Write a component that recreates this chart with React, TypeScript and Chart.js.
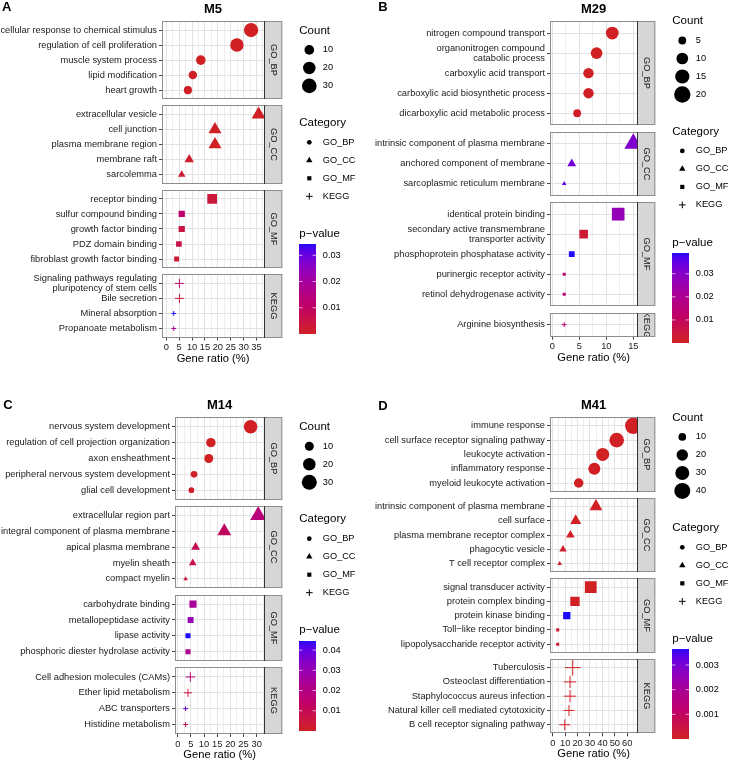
import React, { useEffect, useRef } from "react";
import { Chart, registerables } from "chart.js";
Chart.register(...registerables);

const FONT = "'Liberation Sans', Arial, Helvetica, sans-serif";
const FACETS = ["GO_BP", "GO_CC", "GO_MF", "KEGG"];
const SHAPE: Record<string, string> = { GO_BP: "circle", GO_CC: "triangle", GO_MF: "rect", KEGG: "cross" };

// ---------------- Panel A : M5 ----------------
const A_terms = [
  "cellular response to chemical stimulus", "regulation of cell proliferation", "muscle system process", "lipid modification", "heart growth",
  "extracellular vesicle", "cell junction", "plasma membrane region", "membrane raft", "sarcolemma",
  "receptor binding", "sulfur compound binding", "growth factor binding", "PDZ domain binding", "fibroblast growth factor binding",
  "Signaling pathways regulating\npluripotency of stem cells", "Bile secretion", "Mineral absorption", "Propanoate metabolism",
];
const A_category = ["GO_BP", "GO_BP", "GO_BP", "GO_BP", "GO_BP", "GO_CC", "GO_CC", "GO_CC", "GO_CC", "GO_CC", "GO_MF", "GO_MF", "GO_MF", "GO_MF", "GO_MF", "KEGG", "KEGG", "KEGG", "KEGG"];
const A_ratio = [32.9, 27.4, 13.4, 10.3, 8.4, 35.8, 18.9, 18.9, 8.9, 6.0, 17.8, 6.0, 6.0, 4.9, 4.0, 5.1, 5.1, 2.9, 2.9];
const A_count = [28, 24, 10, 7, 6, 12, 10, 10, 4, 2, 14, 4, 4, 3, 2, 3, 3, 1, 1];
const A_pvalue = [1e-9, 2e-8, 1e-5, 3e-4, 6e-4, 1e-6, 1e-4, 2e-4, 1.5e-3, 2.5e-3, 3.5e-3, 0.012, 4.5e-3, 5.5e-3, 3e-3, 0.013, 3.5e-3, 0.0343, 0.0185];
const A_countLimits = [1, 39];
const A_countBreaks = [10, 20, 30];
const A_pBreaks = [0.01, 0.02, 0.03];
const A_xRange = [-1.65, 37.9];
const A_xMajor = [0, 5, 10, 15, 20, 25, 30, 35];

// ---------------- Panel B : M29 ----------------
const B_terms = [
  "nitrogen compound transport", "organonitrogen compound\ncatabolic process", "carboxylic acid transport", "carboxylic acid biosynthetic process", "dicarboxylic acid metabolic process",
  "intrinsic component of plasma membrane", "anchored component of membrane", "sarcoplasmic reticulum membrane",
  "identical protein binding", "secondary active transmembrane\ntransporter activity", "phosphoprotein phosphatase activity", "purinergic receptor activity", "retinol dehydrogenase activity",
  "Arginine biosynthesis",
];
const B_category = ["GO_BP", "GO_BP", "GO_BP", "GO_BP", "GO_BP", "GO_CC", "GO_CC", "GO_CC", "GO_MF", "GO_MF", "GO_MF", "GO_MF", "GO_MF", "KEGG"];
const B_ratio = [11.1, 8.2, 6.7, 6.7, 4.6, 15.0, 3.6, 2.2, 12.2, 5.8, 3.6, 2.2, 2.2, 2.2];
const B_count = [12, 10, 8, 8, 5, 13, 4, 3, 15, 7, 4, 3, 3, 3];
const B_pvalue = [1e-6, 2e-5, 1e-4, 2e-4, 1e-3, 0.031, 0.033, 0.035, 0.027, 0.003, 0.039, 0.014, 0.014, 0.015];
const B_countLimits = [3, 20];
const B_countBreaks = [5, 10, 15, 20];
const B_pBreaks = [0.01, 0.02, 0.03];
const B_xRange = [-0.43, 15.74];
const B_xMajor = [0, 5, 10, 15];

// ---------------- Panel C : M14 ----------------
const C_terms = [
  "nervous system development", "regulation of cell projection organization", "axon ensheathment", "peripheral nervous system development", "glial cell development",
  "extracellular region part", "integral component of plasma membrane", "apical plasma membrane", "myelin sheath", "compact myelin",
  "carbohydrate binding", "metallopeptidase activity", "lipase activity", "phosphoric diester hydrolase activity",
  "Cell adhesion molecules (CAMs)", "Ether lipid metabolism", "ABC transporters", "Histidine metabolism",
];
const C_category = ["GO_BP", "GO_BP", "GO_BP", "GO_BP", "GO_BP", "GO_CC", "GO_CC", "GO_CC", "GO_CC", "GO_CC", "GO_MF", "GO_MF", "GO_MF", "GO_MF", "KEGG", "KEGG", "KEGG", "KEGG"];
const C_ratio = [27.7, 12.6, 11.8, 6.2, 5.2, 30.6, 17.7, 6.8, 5.7, 3.0, 5.8, 4.9, 3.9, 3.9, 4.8, 3.9, 3.0, 3.0];
const C_count = [24, 11, 10, 6, 5, 18, 13, 6, 5, 4, 8, 6, 5, 5, 6, 5, 4, 4];
const C_pvalue = [1e-10, 1e-5, 5e-5, 4e-4, 8e-4, 0.018, 0.012, 0.01, 0.008, 0.005, 0.024, 0.03, 0.0445, 0.023, 0.019, 0.006, 0.038, 0.01];
const C_countLimits = [4, 36];
const C_countBreaks = [10, 20, 30];
const C_pBreaks = [0.01, 0.02, 0.03, 0.04];
const C_xRange = [-1.03, 32.9];
const C_xMajor = [0, 5, 10, 15, 20, 25, 30];

// ---------------- Panel D : M41 ----------------
const D_terms = [
  "immune response", "cell surface receptor signaling pathway", "leukocyte activation", "inflammatory response", "myeloid leukocyte activation",
  "intrinsic component of plasma membrane", "cell surface", "plasma membrane receptor complex", "phagocytic vesicle", "T cell receptor complex",
  "signal transducer activity", "protein complex binding", "protein kinase binding", "Toll\u2212like receptor binding", "lipopolysaccharide receptor activity",
  "Tuberculosis", "Osteoclast differentiation", "Staphylococcus aureus infection", "Natural killer cell mediated cytotoxicity", "B cell receptor signaling pathway",
];
const D_category = ["GO_BP", "GO_BP", "GO_BP", "GO_BP", "GO_BP", "GO_CC", "GO_CC", "GO_CC", "GO_CC", "GO_CC", "GO_MF", "GO_MF", "GO_MF", "GO_MF", "GO_MF", "KEGG", "KEGG", "KEGG", "KEGG", "KEGG"];
const D_ratio = [64.8, 51.5, 40.2, 33.5, 20.9, 34.8, 18.5, 14.2, 8.3, 5.6, 30.6, 17.9, 11.3, 4.0, 4.0, 16.1, 13.9, 13.9, 13.1, 9.7];
const D_count = [42, 33, 26, 22, 14, 14, 11, 8, 7, 6, 27, 17, 11, 6, 6, 19, 12, 12, 10, 10];
const D_pvalue = [1e-15, 1e-12, 1e-10, 1e-9, 1e-6, 1e-6, 1e-5, 5e-5, 1e-4, 2e-4, 1e-7, 1e-5, 0.00365, 2e-4, 2e-4, 1e-6, 1e-5, 1e-5, 2e-5, 5e-5];
const D_countLimits = [6, 42];
const D_countBreaks = [10, 20, 30, 40];
const D_pBreaks = [0.001, 0.002, 0.003];
const D_xRange = [-2.2, 68.1];
const D_xMajor = [0, 10, 20, 30, 40, 50, 60];

// ---------------- styling ----------------
const GAP = 6.3;
const EXPAND = 0.6;
const STRIP_W = 18.3;
const X_AXIS_H = 27.7;
const BAR_W = 17.3;
const BAR_H = 90;
const LOW = [208, 32, 36];
const HIGH = [30, 10, 250];
const TEXT = "#1A1A1A";

type Geo = { W: number; H: number; left: number; right: number; top: number; bottom: number; letterX: number; letterY: number };

// ---- Lab colour interpolation (like ggplot's gradient) ----
function toLin(c: number) { c /= 255; return c <= 0.04045 ? c / 12.92 : Math.pow((c + 0.055) / 1.055, 2.4); }
function fromLin(c: number) { const v = c <= 0.0031308 ? 12.92 * c : 1.055 * Math.pow(c, 1 / 2.4) - 0.055; return Math.round(Math.max(0, Math.min(1, v)) * 255); }
function rgb2lab(rgb: number[]) {
  const [r, g, b] = rgb.map(toLin);
  const X = (0.4124 * r + 0.3576 * g + 0.1805 * b) / 0.95047;
  const Y = 0.2126 * r + 0.7152 * g + 0.0722 * b;
  const Z = (0.0193 * r + 0.1192 * g + 0.9505 * b) / 1.08883;
  const f = (t: number) => (t > 0.008856 ? Math.cbrt(t) : 7.787 * t + 16 / 116);
  const fx = f(X), fy = f(Y), fz = f(Z);
  return [116 * fy - 16, 500 * (fx - fy), 200 * (fy - fz)];
}
function lab2rgb(lab: number[]) {
  const fy = (lab[0] + 16) / 116, fx = fy + lab[1] / 500, fz = fy - lab[2] / 200;
  const fi = (t: number) => (t * t * t > 0.008856 ? t * t * t : (t - 16 / 116) / 7.787);
  const X = fi(fx) * 0.95047, Y = fi(fy), Z = fi(fz) * 1.08883;
  const r = 3.2406 * X - 1.5372 * Y - 0.4986 * Z;
  const g = -0.9689 * X + 1.8758 * Y + 0.0415 * Z;
  const b = 0.0557 * X - 0.204 * Y + 1.057 * Z;
  return `rgb(${fromLin(r)},${fromLin(g)},${fromLin(b)})`;
}
const LOW_LAB = rgb2lab(LOW), HIGH_LAB = rgb2lab(HIGH);
function gradColor(t: number) {
  t = Math.max(0, Math.min(1, t));
  return lab2rgb([0, 1, 2].map((k) => LOW_LAB[k] + (HIGH_LAB[k] - LOW_LAB[k]) * t));
}

function shapeRadius(shape: string, d: number) {
  if (shape === "triangle") return 0.778 * d;
  if (shape === "rect") return 0.627 * d;
  if (shape === "cross") return 0.707 * d;
  return d / 2;
}

function drawShape(ctx: CanvasRenderingContext2D, shape: string, x: number, y: number, r: number, color: string) {
  ctx.fillStyle = color;
  ctx.strokeStyle = color;
  ctx.beginPath();
  if (shape === "circle") {
    ctx.arc(x, y, r, 0, Math.PI * 2);
    ctx.fill();
  } else if (shape === "triangle") {
    ctx.moveTo(x, y - r);
    ctx.lineTo(x + 0.866 * r, y + 0.5 * r);
    ctx.lineTo(x - 0.866 * r, y + 0.5 * r);
    ctx.closePath();
    ctx.fill();
  } else if (shape === "rect") {
    const s = r * Math.SQRT1_2;
    ctx.rect(x - s, y - s, 2 * s, 2 * s);
    ctx.fill();
  } else {
    ctx.lineWidth = 1;
    ctx.moveTo(x - r, y);
    ctx.lineTo(x + r, y);
    ctx.moveTo(x, y - r);
    ctx.lineTo(x, y + r);
    ctx.stroke();
  }
}

interface PanelCfg {
  letter: string;
  title: string;
  terms: string[];
  category: string[];
  ratio: number[];
  count: number[];
  pvalue: number[];
  countLimits: number[];
  countBreaks: number[];
  pBreaks: number[];
  xRange: number[];
  xMajor: number[];
  geo: Geo;
}

function buildChart(canvas: HTMLCanvasElement, cfg: PanelCfg) {
  const g = cfg.geo;
  const present = FACETS.filter((f) => cfg.category.includes(f));
  const groups = present.map((f) => cfg.category.map((c, i) => (c === f ? i : -1)).filter((i) => i >= 0));
  const plotH = g.bottom - g.top;
  const units = groups.reduce((s, gr) => s + gr.length - 1 + 2 * EXPAND, 0);
  const pxU = (plotH - GAP * (groups.length - 1)) / units;
  const gapU = GAP / pxU;
  const yPos: number[] = new Array(cfg.terms.length).fill(0);
  const ranges: number[][] = [];
  let s = 0;
  groups.forEach((gr) => {
    gr.forEach((idx, j) => { yPos[idx] = s + EXPAND + j; });
    const e = s + gr.length - 1 + 2 * EXPAND;
    ranges.push([s, e]);
    s = e + gapU;
  });
  const yMax = s - gapU;
  const order = groups.flat();

  const [cMin, cMax] = cfg.countLimits;
  const diam = (c: number) => 3.4 + 12.9 * Math.sqrt(Math.max(0, (c - cMin) / (cMax - cMin)));
  const pMin = Math.min(...cfg.pvalue);
  const pMax = Math.max(...cfg.pvalue);
  const col = (p: number) => gradColor((p - pMin) / (pMax - pMin));

  const step = cfg.xMajor[1] - cfg.xMajor[0];
  const majorSet = new Set(cfg.xMajor);
  const minors = cfg.xMajor.map((v) => v + step / 2).filter((v) => v < cfg.xRange[1]);
  const xTicks = [...cfg.xMajor, ...minors].sort((a, b) => a - b);

  const datasets = groups.map((gr, k) => {
    const shape = SHAPE[present[k]];
    const colors = gr.map((i) => col(cfg.pvalue[i]));
    const radii = gr.map((i) => shapeRadius(shape, diam(cfg.count[i])));
    return {
      label: present[k],
      data: gr.map((i) => ({ x: cfg.ratio[i], y: yPos[i] })),
      pointStyle: shape,
      pointRadius: radii,
      pointHoverRadius: radii,
      backgroundColor: colors,
      borderColor: colors,
      pointBackgroundColor: colors,
      pointBorderColor: colors,
      borderWidth: shape === "cross" ? 1 : 0,
      pointBorderWidth: shape === "cross" ? 1 : 0,
      showLine: false,
    };
  });

  const facetRect = (chart: any, k: number) => {
    const y = chart.scales.y;
    const ca = chart.chartArea;
    const L = Math.round(ca.left), R = Math.round(ca.right);
    const T = Math.round(y.getPixelForValue(ranges[k][0]));
    const B = Math.round(y.getPixelForValue(ranges[k][1]));
    return { L, R, T, B };
  };

  const decor = {
    id: "decor" + cfg.letter,
    beforeDatasetsDraw(chart: any) {
      const ctx: CanvasRenderingContext2D = chart.ctx;
      const ca = chart.chartArea;
      ctx.save();
      for (let k = 0; k < ranges.length - 1; k++) {
        const a = facetRect(chart, k), b = facetRect(chart, k + 1);
        ctx.fillStyle = "#ffffff";
        ctx.fillRect(ca.left - 1, a.B, ca.right - ca.left + 2, b.T - a.B);
      }
      ranges.forEach((_, k) => {
        const { L, R, T, B } = facetRect(chart, k);
        ctx.fillStyle = "#D6D6D6";
        ctx.fillRect(R, T, STRIP_W, B - T);
        ctx.lineWidth = 1;
        ctx.strokeStyle = "#8E8E8E";
        ctx.strokeRect(L + 0.5, T + 0.5, R + STRIP_W - L - 1, B - T - 1);
        ctx.strokeStyle = "#333333";
        ctx.beginPath();
        ctx.moveTo(R + 0.5, T);
        ctx.lineTo(R + 0.5, B);
        ctx.stroke();
        ctx.save();
        ctx.beginPath();
        ctx.rect(R + 1, T + 1, STRIP_W - 2, B - T - 2);
        ctx.clip();
        ctx.translate(R + STRIP_W / 2 + 0.5, (T + B) / 2);
        ctx.rotate(Math.PI / 2);
        ctx.fillStyle = TEXT;
        ctx.font = `9.3px ${FONT}`;
        ctx.textAlign = "center";
        ctx.textBaseline = "middle";
        ctx.fillText(present[k], 0, 0);
        ctx.restore();
      });
      ctx.restore();
    },
    beforeDatasetDraw(chart: any, args: any) {
      const ctx: CanvasRenderingContext2D = chart.ctx;
      const { L, R, T, B } = facetRect(chart, args.index);
      ctx.save();
      ctx.beginPath();
      ctx.rect(L + 1, T + 1, R - L - 1, B - T - 2);
      ctx.clip();
    },
    afterDatasetDraw(chart: any) {
      chart.ctx.restore();
    },
    afterDraw(chart: any) {
      const ctx: CanvasRenderingContext2D = chart.ctx;
      const ca = chart.chartArea;
      ctx.save();
      ctx.globalAlpha = 1;
      ctx.fillStyle = "#000";
      ctx.textBaseline = "middle";
      ctx.font = `bold 13px ${FONT}`;
      ctx.textAlign = "left";
      ctx.fillText(cfg.letter, g.letterX, g.letterY);
      ctx.textAlign = "center";
      ctx.fillText(cfg.title, (ca.left + ca.right) / 2, ca.top - 12);

      const lx = Math.round(ca.right) + STRIP_W + 17;
      const nK = cfg.countBreaks.length;
      const blockH = 6 + 19.5 + 18 * (nK - 1) + 37 + 19.4 + 18 * 3 + 37.5 + 10.3 + BAR_H;
      let y = (ca.top + ca.bottom) / 2 - blockH / 2 + 6;
      const title = (t: string) => {
        ctx.fillStyle = "#000";
        ctx.font = `11.5px ${FONT}`;
        ctx.textAlign = "left";
        ctx.fillText(t, lx, y);
      };
      const label = (t: string, yy: number) => {
        ctx.fillStyle = "#000";
        ctx.font = `9.2px ${FONT}`;
        ctx.textAlign = "left";
        ctx.fillText(t, lx + 23.5, yy);
      };
      title("Count");
      y += 19.5;
      cfg.countBreaks.forEach((c, i) => {
        drawShape(ctx, "circle", lx + 10, y, diam(c) / 2, "#000");
        label(String(c), y);
        if (i < nK - 1) y += 18;
      });
      y += 37;
      title("Category");
      y += 19.4;
      FACETS.forEach((f, j) => {
        drawShape(ctx, SHAPE[f], lx + 10, y, shapeRadius(SHAPE[f], 4.7), "#000");
        label(f, y);
        if (j < 3) y += 18;
      });
      y += 37.5;
      title("p\u2212value");
      const bt = Math.round(y + 10.3);
      const bx = Math.round(lx);
      const bw = Math.round(BAR_W);
      for (let i = 0; i < BAR_H; i++) {
        const t = 1 - (i + 0.5) / BAR_H;
        ctx.fillStyle = gradColor(t);
        ctx.fillRect(bx, bt + i, bw, 1);
      }
      cfg.pBreaks.forEach((v) => {
        const ty = bt + BAR_H - ((v - pMin) / (pMax - pMin)) * BAR_H;
        ctx.strokeStyle = "rgba(255,255,255,0.85)";
        ctx.lineWidth = 0.8;
        ctx.beginPath();
        ctx.moveTo(bx, ty);
        ctx.lineTo(bx + bw / 5, ty);
        ctx.moveTo(bx + bw - bw / 5, ty);
        ctx.lineTo(bx + bw, ty);
        ctx.stroke();
        label(String(v), ty);
      });
      ctx.restore();
    },
  };

  return new Chart(canvas, {
    type: "scatter",
    data: { datasets: datasets as any },
    plugins: [decor],
    options: {
      animation: false,
      responsive: false,
      devicePixelRatio: 1,
      events: [],
      layout: { padding: { left: 0, right: g.W - g.right, top: g.top, bottom: g.H - g.bottom - X_AXIS_H } },
      plugins: { legend: { display: false }, tooltip: { enabled: false }, title: { display: false } },
      scales: {
        x: {
          type: "linear",
          min: cfg.xRange[0],
          max: cfg.xRange[1],
          afterBuildTicks: (sc: any) => { sc.ticks = xTicks.map((v) => ({ value: v })); },
          afterFit: (sc: any) => { sc.height = X_AXIS_H; },
          border: { display: false },
          grid: {
            color: (c: any) => (majorSet.has(c.tick?.value) ? "#E2E2E2" : "#EDEDED"),
            lineWidth: 1,
            tickColor: (c: any) => (majorSet.has(c.tick?.value) ? "#444" : "rgba(0,0,0,0)"),
            tickLength: 3,
            tickWidth: 1,
          },
          ticks: {
            autoSkip: false,
            maxRotation: 0,
            padding: 1.5,
            color: TEXT,
            font: { family: FONT, size: 9.3 },
            callback: (v: any) => (majorSet.has(v) ? String(v) : ""),
          },
          title: { display: true, text: "Gene ratio (%)", color: "#000", font: { family: FONT, size: 11.2 }, padding: { top: 0, bottom: 0 } },
        },
        y: {
          type: "linear",
          reverse: true,
          min: 0,
          max: yMax,
          afterBuildTicks: (sc: any) => { sc.ticks = order.map((i) => ({ value: yPos[i] })); },
          afterFit: (sc: any) => { sc.width = g.left; },
          border: { display: false },
          grid: { color: "#E2E2E2", lineWidth: 1, tickColor: "#444", tickLength: 3, tickWidth: 1 },
          ticks: {
            autoSkip: false,
            padding: 2,
            color: TEXT,
            font: { family: FONT, size: 9.3, lineHeight: 1.1 },
            callback: (_v: any, idx: number) => {
              const t = cfg.terms[order[idx]];
              return t.includes("\n") ? t.split("\n") : t;
            },
          },
        },
      },
    } as any,
  });
}

function Panel({ cfg, x, y }: { cfg: PanelCfg; x: number; y: number }) {
  const ref = useRef<HTMLCanvasElement>(null);
  useEffect(() => {
    const chart = buildChart(ref.current as HTMLCanvasElement, cfg);
    return () => chart.destroy();
  }, []);
  return (
    <canvas
      ref={ref}
      width={cfg.geo.W}
      height={cfg.geo.H}
      style={{ position: "absolute", left: x, top: y, width: cfg.geo.W, height: cfg.geo.H }}
    />
  );
}

const PANEL_A: PanelCfg = {
  letter: "A", title: "M5", terms: A_terms, category: A_category, ratio: A_ratio, count: A_count, pvalue: A_pvalue,
  countLimits: A_countLimits, countBreaks: A_countBreaks, pBreaks: A_pBreaks, xRange: A_xRange, xMajor: A_xMajor,
  geo: { W: 367, H: 381, left: 162, right: 264, top: 21, bottom: 337.5, letterX: 2, letterY: 7.5 },
};
const PANEL_B: PanelCfg = {
  letter: "B", title: "M29", terms: B_terms, category: B_category, ratio: B_ratio, count: B_count, pvalue: B_pvalue,
  countLimits: B_countLimits, countBreaks: B_countBreaks, pBreaks: B_pBreaks, xRange: B_xRange, xMajor: B_xMajor,
  geo: { W: 368, H: 381, left: 183, right: 270.3, top: 21, bottom: 336.7, letterX: 11.3, letterY: 7 },
};
const PANEL_C: PanelCfg = {
  letter: "C", title: "M14", terms: C_terms, category: C_category, ratio: C_ratio, count: C_count, pvalue: C_pvalue,
  countLimits: C_countLimits, countBreaks: C_countBreaks, pBreaks: C_pBreaks, xRange: C_xRange, xMajor: C_xMajor,
  geo: { W: 367, H: 382, left: 175, right: 264.3, top: 36.3, bottom: 353, letterX: 3.3, letterY: 24 },
};
const PANEL_D: PanelCfg = {
  letter: "D", title: "M41", terms: D_terms, category: D_category, ratio: D_ratio, count: D_count, pvalue: D_pvalue,
  countLimits: D_countLimits, countBreaks: D_countBreaks, pBreaks: D_pBreaks, xRange: D_xRange, xMajor: D_xMajor,
  geo: { W: 368, H: 382, left: 183, right: 270.3, top: 36.3, bottom: 352.3, letterX: 11.3, letterY: 25 },
};

export default function App() {
  return (
    <div style={{ position: "absolute", left: 0, top: 0, width: 735, height: 763, background: "#ffffff", overflow: "hidden" }}>
      <Panel cfg={PANEL_A} x={0} y={0} />
      <Panel cfg={PANEL_B} x={367} y={0} />
      <Panel cfg={PANEL_C} x={0} y={381} />
      <Panel cfg={PANEL_D} x={367} y={381} />
    </div>
  );
}
